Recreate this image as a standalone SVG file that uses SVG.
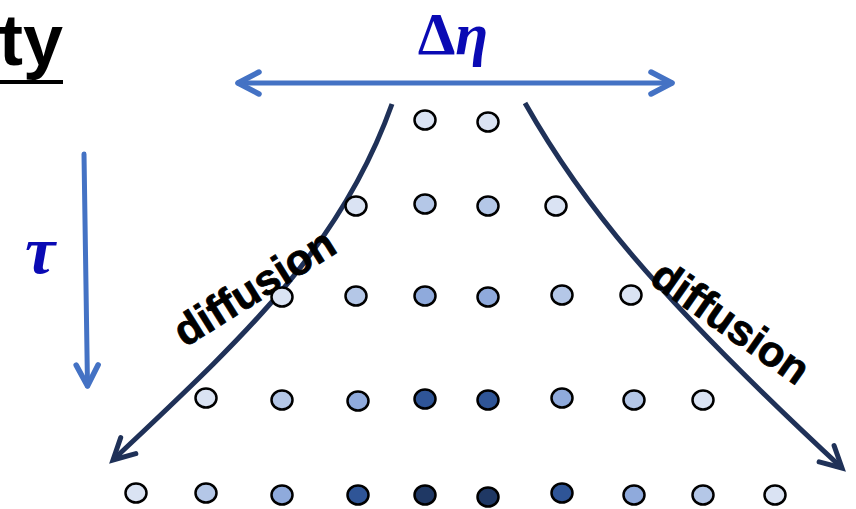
<svg xmlns="http://www.w3.org/2000/svg" width="856" height="509" viewBox="0 0 856 509">
<style>
.c{stroke:#000;stroke-width:2.5}
.l1{fill:#dae3f3}.l2{fill:#b4c7e7}.l3{fill:#8faadc}.l4{fill:#2f5597}.l5{fill:#1f3864}
.blue{fill:none;stroke:#4472c4;stroke-width:5;stroke-linecap:round}
.navy{fill:none;stroke:#1f3158;stroke-width:5}
.lbl{font-family:"Liberation Sans",Arial,sans-serif;font-weight:bold;fill:#000}
.sym{font-family:"Liberation Serif","DejaVu Serif",serif;font-weight:bold;fill:#0a0ab4}
</style>
<defs>
<marker id="hb" markerUnits="userSpaceOnUse" markerWidth="40" markerHeight="40" viewBox="-30 -20 40 40" refX="0" refY="0" orient="auto-start-reverse" overflow="visible">
<path d="M-21,-11 L0,0 L-21,11" fill="none" stroke="#4472c4" stroke-width="5.5" stroke-linecap="round" stroke-linejoin="round"/>
</marker>
<marker id="hn" markerUnits="userSpaceOnUse" markerWidth="40" markerHeight="40" viewBox="-30 -20 40 40" refX="0" refY="0" orient="auto" overflow="visible">
<path d="M-21,-11 L0,0 L-21,11" fill="none" stroke="#1f3158" stroke-width="5" stroke-linecap="round" stroke-linejoin="miter"/>
</marker>
</defs>

<g id="title">
<text class="lbl" x="63" y="65" font-size="72" text-anchor="end">ty</text>
<rect x="0" y="80" width="63" height="4" fill="#000"/>
</g>

<g id="connectors">
<line class="blue" x1="238" y1="83" x2="672" y2="83" marker-start="url(#hb)" marker-end="url(#hb)"/>
<line class="blue" x1="84" y1="154" x2="87.5" y2="386" marker-end="url(#hb)"/>
<path class="navy" d="M392,104 C340,250 240,340 113,460" marker-end="url(#hn)"/>
<path class="navy" d="M525,103 C580,200 650,290 842,468" marker-end="url(#hn)"/>
</g>

<g id="deta"><text class="sym" x="453" y="54" font-size="60" text-anchor="middle">Δ<tspan font-style="italic">η</tspan></text></g>
<g id="tau"><text class="sym" x="40" y="273" font-size="68" font-style="italic" text-anchor="middle">τ</text></g>

<g id="diffusion-left"><text class="lbl" font-size="43" text-anchor="middle" transform="translate(254,287) rotate(-32)" y="15" stroke="#000" stroke-width="0.8">diffusion</text></g>
<g id="diffusion-right"><text class="lbl" font-size="43" text-anchor="middle" transform="translate(731,322) rotate(35)" y="15" stroke="#000" stroke-width="0.8">diffusion</text></g>

<g id="row1">
<ellipse class="c l1" cx="425" cy="120" rx="10.5" ry="9.5"/>
<ellipse class="c l1" cx="488" cy="122" rx="10.5" ry="9.5"/>
</g>
<g id="row2">
<ellipse class="c l1" cx="356" cy="206" rx="10.5" ry="9.5"/>
<ellipse class="c l2" cx="425" cy="204" rx="10.5" ry="9.5"/>
<ellipse class="c l2" cx="488" cy="206" rx="10.5" ry="9.5"/>
<ellipse class="c l1" cx="556" cy="206" rx="10.5" ry="9.5"/>
</g>
<g id="row3">
<ellipse class="c l1" cx="282" cy="297" rx="10.5" ry="9.5"/>
<ellipse class="c l2" cx="356" cy="296" rx="10.5" ry="9.5"/>
<ellipse class="c l3" cx="425" cy="296" rx="10.5" ry="9.5"/>
<ellipse class="c l3" cx="488" cy="297" rx="10.5" ry="9.5"/>
<ellipse class="c l2" cx="562" cy="295" rx="10.5" ry="9.5"/>
<ellipse class="c l1" cx="631" cy="295" rx="10.5" ry="9.5"/>
</g>
<g id="row4">
<ellipse class="c l1" cx="206" cy="398" rx="10.5" ry="9.5"/>
<ellipse class="c l2" cx="282" cy="400" rx="10.5" ry="9.5"/>
<ellipse class="c l3" cx="358" cy="401" rx="10.5" ry="9.5"/>
<ellipse class="c l4" cx="425" cy="399" rx="10.5" ry="9.5"/>
<ellipse class="c l4" cx="488" cy="400" rx="10.5" ry="9.5"/>
<ellipse class="c l3" cx="562" cy="398" rx="10.5" ry="9.5"/>
<ellipse class="c l2" cx="634" cy="400" rx="10.5" ry="9.5"/>
<ellipse class="c l1" cx="703" cy="400" rx="10.5" ry="9.5"/>
</g>
<g id="row5">
<ellipse class="c l1" cx="136" cy="493" rx="10.5" ry="9.5"/>
<ellipse class="c l2" cx="206" cy="493" rx="10.5" ry="9.5"/>
<ellipse class="c l3" cx="282" cy="495" rx="10.5" ry="9.5"/>
<ellipse class="c l4" cx="358" cy="495" rx="10.5" ry="9.5"/>
<ellipse class="c l5" cx="425" cy="495" rx="10.5" ry="9.5"/>
<ellipse class="c l5" cx="488" cy="497" rx="10.5" ry="9.5"/>
<ellipse class="c l4" cx="562" cy="493" rx="10.5" ry="9.5"/>
<ellipse class="c l3" cx="634" cy="495" rx="10.5" ry="9.5"/>
<ellipse class="c l2" cx="703" cy="495" rx="10.5" ry="9.5"/>
<ellipse class="c l1" cx="775" cy="495" rx="10.5" ry="9.5"/>
</g>
</svg>
